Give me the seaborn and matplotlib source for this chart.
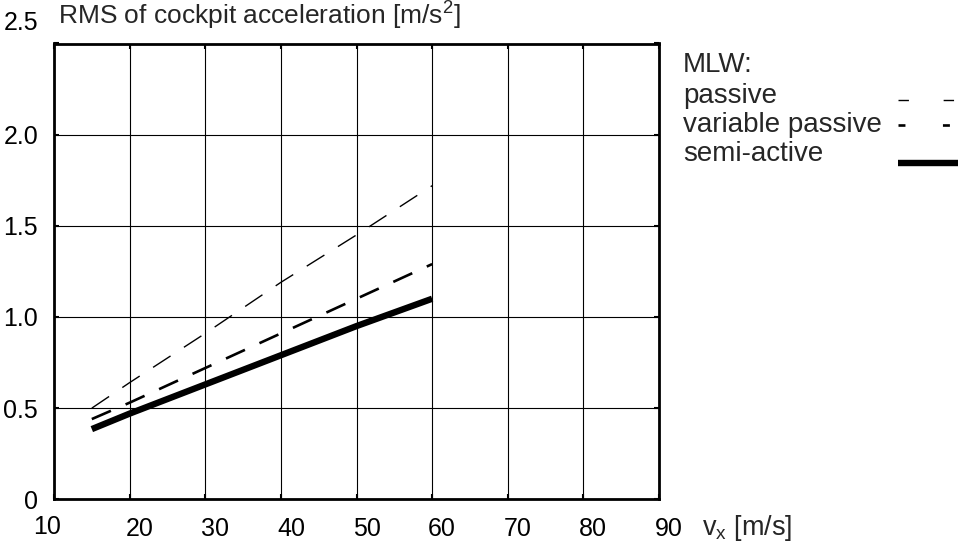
import matplotlib
matplotlib.use("Agg")
import matplotlib.pyplot as plt
from matplotlib.lines import Line2D
from matplotlib.transforms import ScaledTranslation
import pandas as pd
import seaborn as sns

# Measured RMS cockpit acceleration vs. forward speed, per landing-gear type
speed = [15, 20, 30, 40, 50, 60]
passive = [0.50, 0.64, 0.91, 1.19, 1.45, 1.72]
variable_passive = [0.44, 0.53, 0.72, 0.91, 1.10, 1.29]
semi_active = [0.385, 0.47, 0.63, 0.79, 0.95, 1.10]

series_names = ["passive", "variable passive", "semi-active"]
x_ticks = [10, 20, 30, 40, 50, 60, 70, 80, 90]
y_ticks = [0, 0.5, 1.0, 1.5, 2.0, 2.5]
y_tick_labels = ["0", "0.5", "1.0", "1.5", "2.0", "2.5"]

sns.set_style("ticks")
plt.rcParams["font.family"] = ["Liberation Sans", "DejaVu Sans"]
plt.rcParams["mathtext.fontset"] = "custom"
plt.rcParams["mathtext.rm"] = "Liberation Sans"
plt.rcParams["mathtext.it"] = "Liberation Sans"
plt.rcParams["mathtext.default"] = "regular"
plt.rcParams["lines.scale_dashes"] = False

W, H = 958, 542
fig = plt.figure(figsize=(W / 100, H / 100), dpi=100)
ax = fig.add_axes([54 / W, 1 - 499.3 / H, 605 / W, (499.3 - 43.5) / H])

df = pd.DataFrame({
    "speed": speed * 3,
    "rms": passive + variable_passive + semi_active,
    "gear": [series_names[0]] * len(speed)
    + [series_names[1]] * len(speed)
    + [series_names[2]] * len(speed),
})

styles = {
    "passive": dict(lw=1.0, dashes=(15, 11.5)),
    "variable passive": dict(lw=1.9, dashes=(15, 11.5)),
    "semi-active": dict(lw=4.6, dashes=None),
}

for name in series_names:
    sub = df[df["gear"] == name]
    sns.lineplot(data=sub, x="speed", y="rms", ax=ax, color="black",
                 lw=styles[name]["lw"], legend=False, zorder=3)
    line = ax.lines[-1]
    line.set_solid_capstyle("butt")
    if styles[name]["dashes"] is not None:
        line.set_dashes(styles[name]["dashes"])

ax.set_xlim(10, 90)
ax.set_ylim(0, 2.5)
ax.set_xticks(x_ticks)
ax.set_xticklabels([str(v) for v in x_ticks])
ax.set_yticks(y_ticks)
ax.set_yticklabels(y_tick_labels)
ax.set_xlabel("")
ax.set_ylabel("")

ax.grid(True, color="black", lw=0.8)
ax.set_axisbelow(True)
for sp in ax.spines.values():
    sp.set_visible(True)
    sp.set_linewidth(2.0)
    sp.set_color("black")

ax.tick_params(axis="both", direction="in", length=3.5, width=1.5,
               colors="black", labelsize=18, top=True, right=True)
ax.tick_params(axis="x", pad=13)
ax.tick_params(axis="y", pad=11.5)

# shift tick labels the way the original layout places them
for i, lab in enumerate(ax.get_xticklabels()):
    dx, dy = (10, 0) if i > 0 else (-7, 2.5)
    lab.set_transform(lab.get_transform()
                      + ScaledTranslation(dx / 100, dy / 100, fig.dpi_scale_trans))
ylabs = ax.get_yticklabels()
ylabs[-1].set_transform(ylabs[-1].get_transform()
                        + ScaledTranslation(0, 23 / 100, fig.dpi_scale_trans))

# axis captions
fig.text(58 / W, 1 - 25 / H, "RMS of cockpit acceleration [m/s$^2$]",
         fontsize=19, ha="left", va="baseline")
fig.text(702 / W, 1 - 535 / H, "v$_x$ [m/s]", fontsize=19.5,
         ha="left", va="baseline")

# key beside the plot
fig.text(683 / W, 1 - 71.7 / H, "MLW:", fontsize=20, ha="left", va="baseline")
key_rows = [
    ("passive", 103.3, 100, dict(lw=1.0, dashes=(7.5, 25))),
    ("variable passive", 131.7, 125, dict(lw=1.9, dashes=(5, 27))),
    ("semi-active", 160.7, 163, dict(lw=4.6, dashes=None)),
]
for label, base, ly, st in key_rows:
    fig.text(683 / W, 1 - base / H, label, fontsize=20, ha="left", va="baseline")
    ln = Line2D([898 / W, 962 / W], [1 - ly / H, 1 - ly / H],
                transform=fig.transFigure, color="black", lw=st["lw"],
                solid_capstyle="butt")
    if st["dashes"] is not None:
        ln.set_dashes(st["dashes"])
    fig.add_artist(ln)

fig.savefig("out.png", dpi=100)
